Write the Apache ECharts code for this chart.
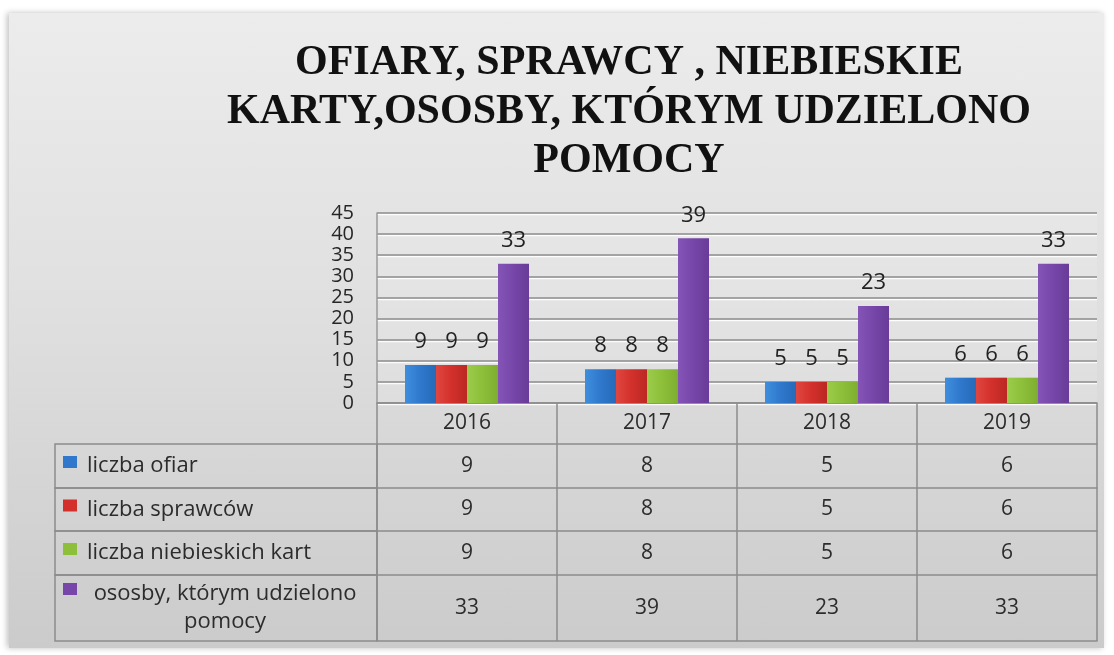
<!DOCTYPE html>
<html>
<head>
<meta charset="utf-8">
<script src="https://cdn.jsdelivr.net/npm/echarts@6/dist/echarts.min.js"></script>
<style>
  html, body { margin: 0; padding: 0; background: #fff; }
  #panel {
    position: absolute; left: 9px; top: 13px; width: 1095px; height: 635px;
    background: linear-gradient(to bottom, #ececec 0%, #e0e0e0 45%, #cbcbcb 100%);
    box-shadow: -2px 0 6px rgba(0,0,0,0.25);
  }
  #main { position: absolute; left: 0; top: 0; width: 1114px; height: 655px; }
</style>
</head>
<body>
<div id="panel"></div>
<div id="main"></div>
<script>
var years = ['2016', '2017', '2018', '2019']
var seriesNames = ['liczba ofiar', 'liczba sprawców', 'liczba niebieskich kart', 'ososby, którym udzielono pomocy']
var liczbaOfiar = [9, 8, 5, 6]
var liczbaSprawcow = [9, 8, 5, 6]
var liczbaKart = [9, 8, 5, 6]
var udzielonoPomocy = [33, 39, 23, 33]
var allValues = [liczbaOfiar, liczbaSprawcow, liczbaKart, udzielonoPomocy]

var colors = ['#2f78cc', '#d3302b', '#8dbf3a', '#7646a8']
var colorsLight = ['#3f8ede', '#e0463f', '#9ccc4a', '#8454b6']
var colorsDark = ['#276ab8', '#bb2823', '#7eae30', '#683c98']

// layout of the plot and the table under it
var gridLeft = 377, gridRight = 17, gridTop = 213, floorY = 403
var headerH = 41
var rowTops = [41, 85, 128, 172] // offsets from the floor
var rowHeights = [44, 43, 44, 66]
var tableLeft = 55
var lineColor = '#8c8c8c'
var font = 'Open Sans'
var textColor = '#2c2c2c'

var chartDom = document.getElementById('main')
var myChart = echarts.init(chartDom)

var xAxes = [
  {
    type: 'category',
    data: years,
    gridIndex: 0,
    axisLine: { lineStyle: { color: lineColor, width: 1.5 } },
    axisTick: { show: true, length: headerH, lineStyle: { color: lineColor, width: 1.5 } },
    axisLabel: {
      margin: headerH / 2, verticalAlign: 'middle',
      fontSize: 21, color: textColor, fontFamily: font,
    },
  },
]
allValues.forEach(function (vals, i) {
  xAxes.push({
    type: 'category',
    data: years,
    gridIndex: 0,
    position: 'bottom',
    offset: rowTops[i],
    axisLine: { lineStyle: { color: lineColor, width: 1.5 } },
    axisTick: { show: true, length: rowHeights[i], lineStyle: { color: lineColor, width: 1.5 } },
    axisLabel: {
      margin: rowHeights[i] / 2, verticalAlign: 'middle',
      fontSize: 21, color: textColor, fontFamily: font,
      formatter: function (v, idx) { return String(vals[idx]) },
    },
  })
})
// bottom border of the table
xAxes.push({
  type: 'category',
  data: years,
  gridIndex: 0,
  position: 'bottom',
  offset: rowTops[3] + rowHeights[3],
  axisLine: { lineStyle: { color: lineColor, width: 1.5 } },
  axisTick: { show: false },
  axisLabel: { show: false },
})

// left column of the data table (series names with colour keys)
var tableGraphics = []
seriesNames.forEach(function (name, i) {
  var y = floorY + rowTops[i]
  var h = rowHeights[i]
  tableGraphics.push({
    type: 'rect',
    shape: { x: tableLeft, y: y, width: gridLeft - tableLeft, height: h },
    style: { fill: 'none', stroke: lineColor, lineWidth: 1.5 },
  })
  var last = i === seriesNames.length - 1
  tableGraphics.push({
    type: 'rect',
    shape: { x: 63, y: last ? y + 8 : y + h / 2 - 10, width: 14, height: 12 },
    style: { fill: colors[i] },
  })
  if (!last) {
    tableGraphics.push({
      type: 'text',
      x: 87, y: y + h / 2,
      style: { text: name, fontSize: 22, fontFamily: font, fill: textColor, verticalAlign: 'middle' },
    })
  } else {
    tableGraphics.push({
      type: 'text',
      x: 225, y: y + h / 2,
      style: {
        text: 'ososby, którym udzielono\npomocy',
        fontSize: 22, fontFamily: font, fill: textColor, lineHeight: 28,
        align: 'center', verticalAlign: 'middle',
      },
    })
  }
})

var option = {
  animation: false,
  title: {
    text: 'OFIARY, SPRAWCY , NIEBIESKIE\nKARTY,OSOSBY, KTÓRYM UDZIELONO\nPOMOCY',
    left: 624,
    top: 34,
    textAlign: 'center',
    textStyle: {
      fontFamily: 'Liberation Serif',
      fontWeight: 'bold',
      fontSize: 42,
      lineHeight: 49,
      color: '#111',
    },
  },
  grid: {
    left: gridLeft,
    right: gridRight,
    top: gridTop,
    bottom: 655 - floorY,
    show: true,
    backgroundColor: 'rgba(255,255,255,0.12)',
    borderWidth: 0,
  },
  xAxis: xAxes,
  yAxis: {
    type: 'value',
    min: 0,
    max: 45,
    interval: 5,
    axisLine: { show: true, lineStyle: { color: '#9a9a9a', width: 1.5 } },
    axisTick: { show: false },
    axisLabel: {
      fontSize: 20, color: '#262626', fontFamily: font, margin: 23,
      showMinLabel: true, showMaxLabel: true, hideOverlap: false,
    },
    splitLine: {
      lineStyle: {
        color: lineColor, width: 1.5,
        shadowColor: 'rgba(255,255,255,0.9)', shadowOffsetY: 1.5, shadowBlur: 0,
      },
    },
  },
  graphic: tableGraphics,
  series: allValues.map(function (vals, i) {
    return {
      name: seriesNames[i],
      type: 'bar',
      xAxisIndex: 0,
      data: vals,
      barWidth: 31,
      barGap: '0%',
      itemStyle: {
        color: new echarts.graphic.LinearGradient(0, 0, 1, 0, [
          { offset: 0, color: colorsLight[i] },
          { offset: 0.5, color: colors[i] },
          { offset: 1, color: colorsDark[i] },
        ]),
      },
      label: {
        show: true,
        position: 'top',
        distance: 12,
        fontSize: 22,
        fontFamily: font,
        color: '#222',
      },
    }
  }),
}
option && myChart.setOption(option)
</script>
</body>
</html>
